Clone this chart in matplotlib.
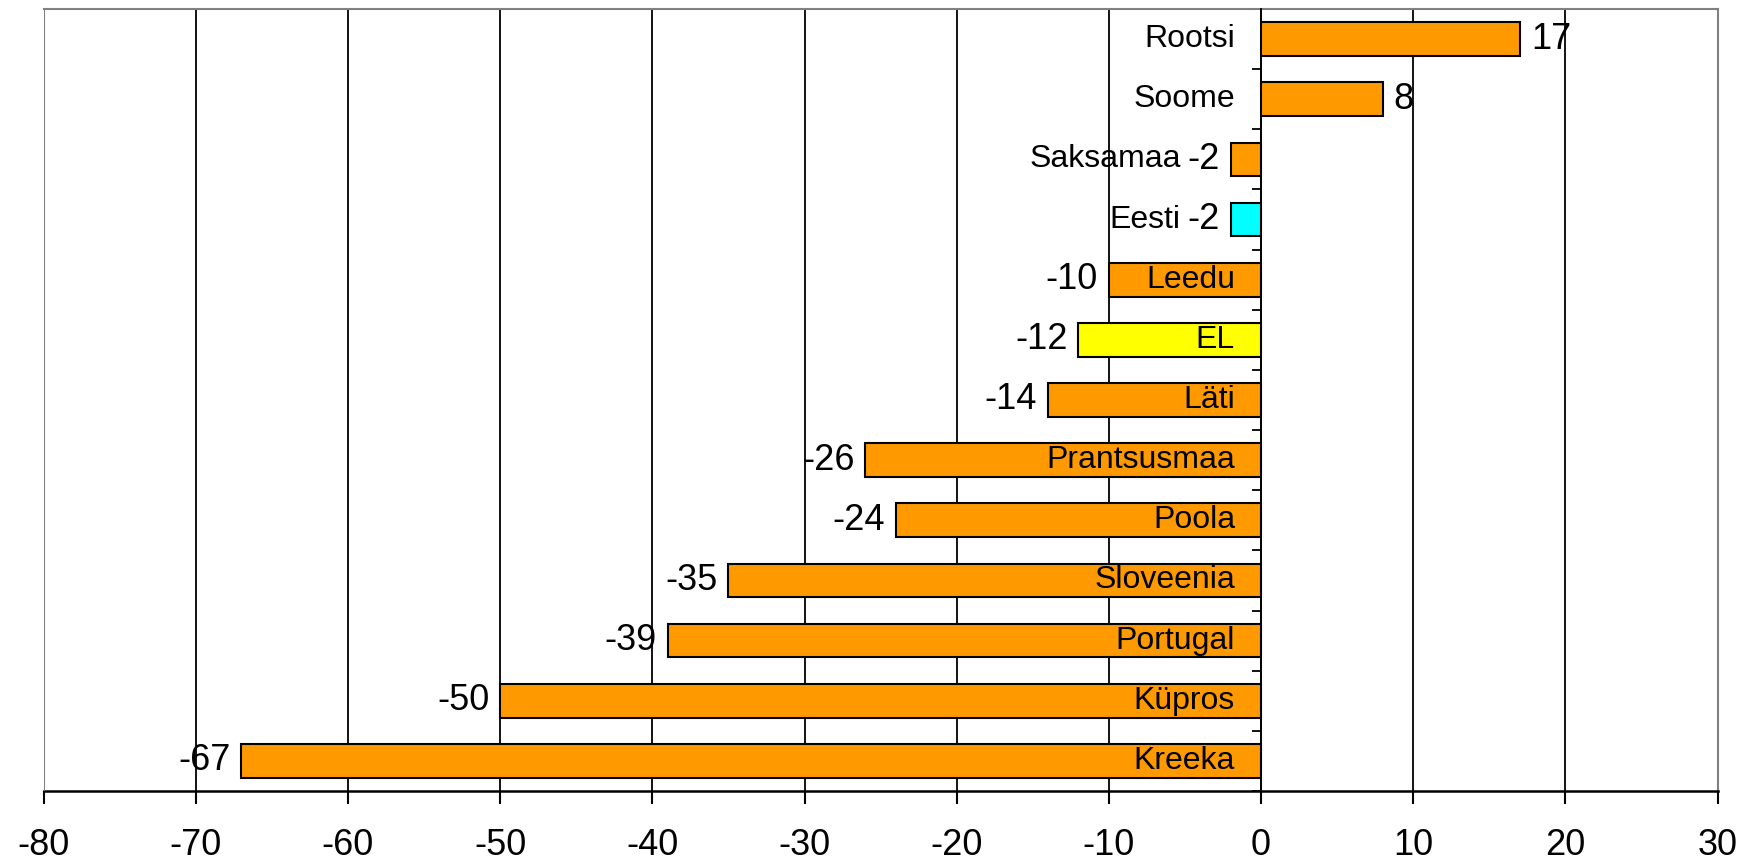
import matplotlib.pyplot as plt
import numpy as np

countries = ["Rootsi", "Soome", "Saksamaa", "Eesti", "Leedu", "EL", "Läti",
             "Prantsusmaa", "Poola", "Sloveenia", "Portugal", "Küpros", "Kreeka"]
values = [17, 8, -2, -2, -10, -12, -14, -26, -24, -35, -39, -50, -67]
colors = ["#FF9900", "#FF9900", "#FF9900", "#00FFFF", "#FF9900", "#FFFF00", "#FF9900",
          "#FF9900", "#FF9900", "#FF9900", "#FF9900", "#FF9900", "#FF9900"]
# short bars get the name outside, next to the value
outside = ["Saksamaa", "Eesti"]
xticks = np.arange(-80, 31, 10)

plt.rcParams['font.family'] = ['Liberation Sans', 'DejaVu Sans']

fig = plt.figure(figsize=(17.49, 8.64), dpi=100)
ax = fig.add_axes([0.0249, 0.0845, 0.9572, 0.9051])

y = np.arange(len(countries))
ax.barh(y, values, height=0.56, color=colors, edgecolor="black", linewidth=1.5, zorder=3)

ax.set_xlim(-80, 30)
ax.set_ylim(len(countries) - 0.53, -0.48)

ax.set_xticks(xticks)
ax.set_xticklabels([str(t) for t in xticks], fontsize=26)
ax.tick_params(axis="x", direction="out", length=9, width=1.5, pad=18)
ax.grid(axis="x", color="black", linewidth=1.3, zorder=1)

# category separators on the zero line
ax.spines["left"].set_position(("data", 0))
ax.spines["left"].set_linewidth(1.3)
ax.spines["left"].set_zorder(4)
ax.set_yticks(np.arange(len(countries) + 1) - 0.5)
ax.set_yticklabels([])
ax.tick_params(axis="y", direction="out", length=6.5, width=1.3)

ax.spines["bottom"].set_linewidth(1.8)
for s in ["top", "right"]:
    ax.spines[s].set_color("#808080")
    ax.spines[s].set_linewidth(1.5)
ax.axvline(-80, color="#808080", linewidth=1.5, zorder=5)

for i, (name, v) in enumerate(zip(countries, values)):
    if v >= 0:
        ax.annotate(str(v), (v, i), xytext=(11, 0), textcoords="offset pixels",
                    ha="left", va="center", fontsize=26, zorder=6)
    else:
        ax.annotate(str(v), (v, i), xytext=(-11, 0), textcoords="offset pixels",
                    ha="right", va="center", fontsize=26, zorder=6)
    if name in outside:
        ax.annotate(name, (v, i), xytext=(-50, 0), textcoords="offset pixels",
                    ha="right", va="center", fontsize=23, zorder=6)
    else:
        ax.annotate(name, (0, i), xytext=(-26, 0), textcoords="offset pixels",
                    ha="right", va="center", fontsize=23, zorder=6)

fig.savefig("out.png", dpi=100)
